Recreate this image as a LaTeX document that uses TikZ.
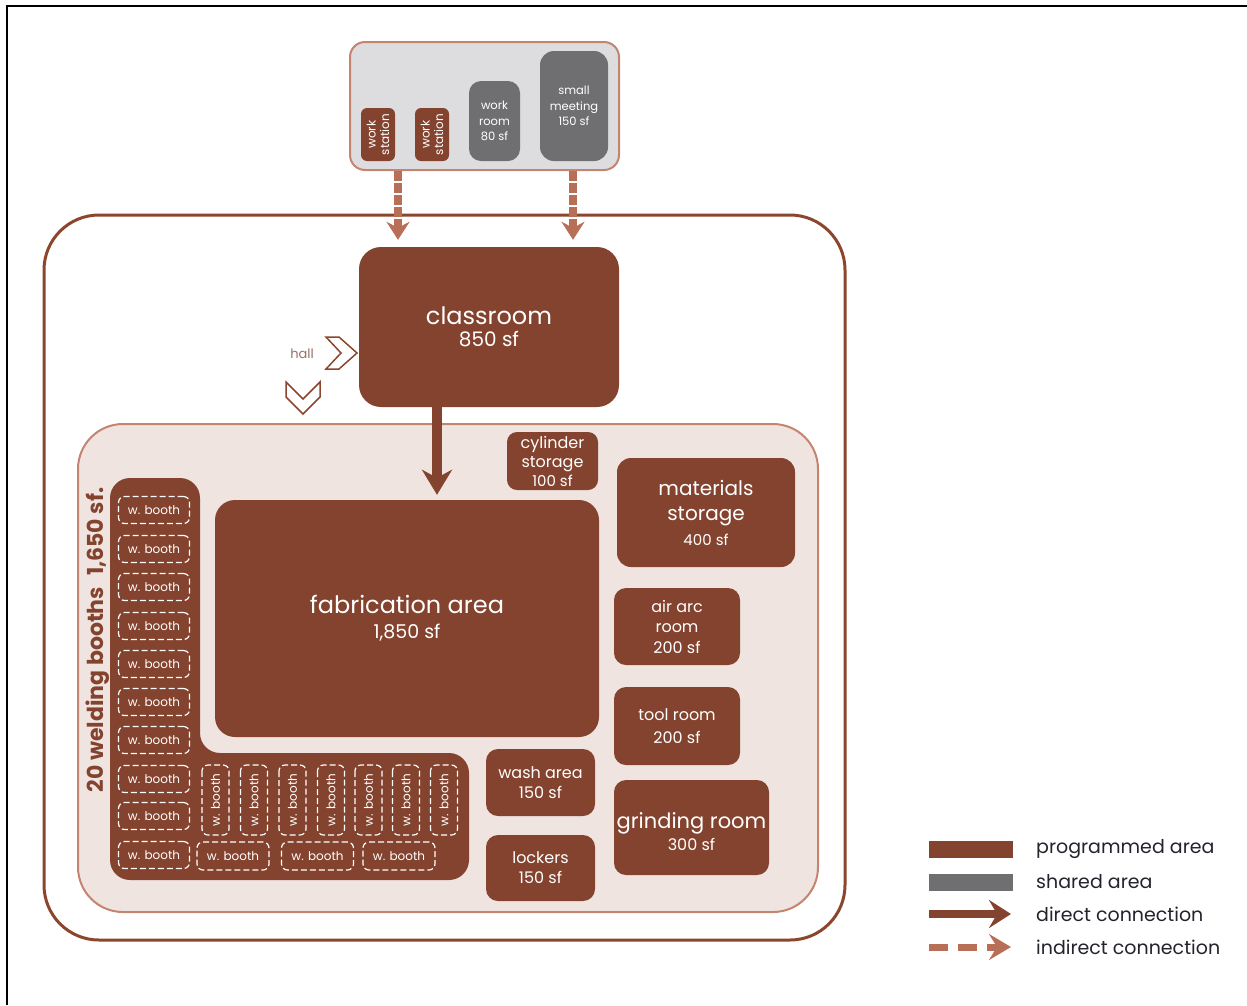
\documentclass[tikz,border=0pt]{standalone}
\usepackage{fontspec}
\setmainfont{Poppins}
\usetikzlibrary{arrows.meta}

\definecolor{progbrown}{RGB}{132,67,46}
\definecolor{sharedgrey}{RGB}{111,111,113}
\definecolor{lightgrey}{RGB}{221,221,223}
\definecolor{blush}{RGB}{240,228,225}
\definecolor{salmon}{RGB}{196,132,112}
\definecolor{dashsalmon}{RGB}{184,111,88}
\definecolor{linebrown}{RGB}{139,70,45}
\definecolor{keytext}{RGB}{35,35,45}
\definecolor{hallgrey}{RGB}{150,112,100}

\newcommand{\sz}[1]{\fontsize{#1}{#1}\selectfont}

\tikzset{
  room/.style={fill=progbrown, rounded corners=12pt, text=white, align=center, inner sep=0pt},
  sharedroom/.style={room, fill=sharedgrey},
  booth/.style={draw=white, dash pattern=on 6pt off 3pt, line width=1.2pt, rounded corners=6pt,
    text=white, inner sep=0pt, minimum width=71pt, minimum height=27pt, font=\sz{12}},
  direct/.style={draw=progbrown, line width=10pt, -{Stealth[length=25pt,width=30pt,inset=8pt]}},
  indirect/.style={draw=dashsalmon, line width=8pt, dash pattern=on 10pt off 2pt,
    -{Stealth[length=18pt,width=23pt,inset=6pt]}},
  chevron/.style={draw=linebrown, fill=white, line width=1.5pt, line join=miter},
  keytxt/.style={anchor=west, text=keytext, font=\sz{19}, inner sep=0pt},
}

\begin{document}
\begin{tikzpicture}[x=1pt,y=-1pt]
  \useasboundingbox (0,0) rectangle (1247,1005);
  \draw[black, line width=2pt] (7,1005) -- (7,6) -- (1247,6);

  % building outline and shop floor
  \draw[linebrown, line width=3pt, rounded corners=55pt] (44,215) rectangle (845,940);
  \draw[fill=blush, draw=salmon, line width=2pt, rounded corners=45pt] (78,424) rectangle (818,912);

  % shared block on top
  \node[fill=lightgrey, draw=salmon, line width=2pt, rounded corners=15pt, minimum width=269pt, minimum height=128pt] (shared) at (484.5,106) {};
  \node[room, rotate=90, minimum width=53pt, minimum height=34pt, rounded corners=6pt, font=\fontsize{12}{13.5}\selectfont] (ws1) at (378,134.5) {work\\station};
  \node[room, rotate=90, minimum width=53pt, minimum height=34pt, rounded corners=6pt, font=\fontsize{12}{13.5}\selectfont] (ws2) at (432,134.5) {work\\station};
  \node[sharedroom, minimum width=51pt, minimum height=80pt, font=\fontsize{11.5}{15.5}\selectfont] (workroom) at (494.5,121) {work\\room\\80 sf};
  \node[sharedroom, minimum width=68pt, minimum height=110pt, rounded corners=14pt, font=\fontsize{11.5}{15.5}\selectfont] (meeting) at (574,106) {small\\meeting\\150 sf};

  % rooms
  \node[room, minimum width=260pt, minimum height=160pt, rounded corners=22pt] (classroom) at (489,327)
    {{\sz{24}classroom}\\[6pt]{\sz{20}850 sf}};
  \node[room, minimum width=384pt, minimum height=237pt, rounded corners=20pt] (fab) at (407,618.5)
    {{\sz{24}fabrication area}\\[9pt]{\sz{19}1,850 sf}};
  \node[room, minimum width=91pt, minimum height=58pt, rounded corners=10pt, font=\fontsize{16}{19}\selectfont] (cylinder) at (552.5,461)
    {cylinder\\storage\\{\sz{15}100 sf}};
  \node[room, minimum width=178pt, minimum height=109pt, rounded corners=14pt, font=\fontsize{20}{25}\selectfont] (materials) at (706,512.5)
    {materials\\storage\\{\sz{15}400 sf}};
  \node[room, minimum width=126pt, minimum height=77pt, font=\fontsize{16}{20.5}\selectfont] (airarc) at (677,626.5)
    {air arc\\room\\200 sf};
  \node[room, minimum width=126pt, minimum height=78pt, font=\fontsize{16}{23}\selectfont] (tool) at (677,726)
    {tool room\\200 sf};
  \node[room, minimum width=109pt, minimum height=67pt, font=\fontsize{16}{20}\selectfont] (wash) at (540.5,782.5)
    {wash area\\150 sf};
  \node[room, minimum width=109pt, minimum height=66pt, font=\fontsize{16}{20}\selectfont] (lockers) at (540.5,868)
    {lockers\\150 sf};
  \node[room, minimum width=155pt, minimum height=95pt, font=\fontsize{21}{22}\selectfont] (grinding) at (691.5,827.5)
    {\rule{0pt}{25pt}grinding room\\[0pt]{\sz{16}300 sf}};

  % welding booths
  \path[fill=progbrown, rounded corners=20pt] (110,700) -- (110,478) -- (200,478) -- (200,753)
    -- (469,753) -- (469,880) -- (110,880) -- cycle;
  \node[rotate=90, text=progbrown, font=\sz{22}\bfseries] (weldlabel) at (98,640) {20 welding booths\enspace 1,650 sf.};
  \foreach \y [count=\i] in {510,549,587,626,664,702,740,779,816,855}
    \node[booth] (wb\i) at (154,\y) {w. booth};
  \foreach \x [count=\i] in {215.5,254,292.5,331,368.5,406,444}
    \node[booth, rotate=90, minimum width=70pt, minimum height=27pt] (vb\i) at (\x,800) {w. booth};
  \foreach \x [count=\i] in {233,317.5,399}
    \node[booth, minimum width=72pt, minimum height=28pt] (hb\i) at (\x,856) {w. booth};

  % hall markers
  \node[text=hallgrey, font=\sz{13}] (hall) at (302,354) {hall};
  \draw[chevron] (326,337) -- (339,337) -- (357,353) -- (339,369) -- (326,369) -- (341,353) -- cycle;
  \draw[chevron] (286,382) -- (286,397) -- (303,414) -- (320,397) -- (320,382) -- (303,399) -- cycle;

  % connections
  \coordinate (in1) at (398,0);
  \coordinate (in2) at (573,0);
  \draw[indirect, shorten >=7pt] (shared.south -| in1) -- (classroom.north -| in1);
  \draw[indirect, shorten >=7pt] (shared.south -| in2) -- (classroom.north -| in2);
  \draw[direct, shorten >=5pt] (classroom.south -| 437,0) -- (fab.north -| 437,0);

  % legend
  \node[fill=progbrown, minimum width=84pt, minimum height=17pt, inner sep=0pt] (keyprog) at (971,849.5) {};
  \node[fill=sharedgrey, minimum width=84pt, minimum height=17pt, inner sep=0pt] (keyshared) at (971,882.5) {};
  \coordinate (keydirA) at (929,914);
  \coordinate (keydirB) at (1011,914);
  \coordinate (keyindA) at (929,947);
  \coordinate (keyindB) at (1011,947);
  \draw[direct, line width=8pt, -{Stealth[length=22pt,width=28pt,inset=8pt]}] (keydirA) -- (keydirB);
  \draw[indirect, line width=7pt, dash pattern=on 19pt off 10pt, -{Stealth[length=22pt,width=26pt,inset=8pt]}] (keyindA) -- (keyindB);
  \node[keytxt] (keyprogtxt) at (1036,849) {programmed area};
  \node[keytxt] (keysharedtxt) at (1036,882) {shared area};
  \node[keytxt] (keydirtxt) at (1036,914) {direct connection};
  \node[keytxt] (keyindtxt) at (1036,947) {indirect connection};
\end{tikzpicture}
\end{document}
